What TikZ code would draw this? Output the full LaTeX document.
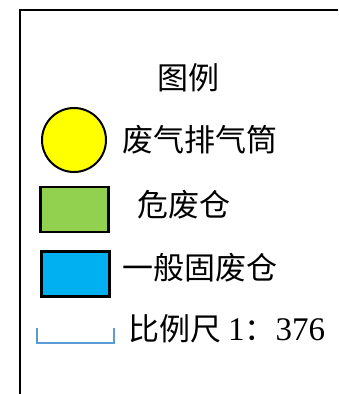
\documentclass[tikz,border=0pt]{standalone}
\usepackage{fontspec}
\setmainfont{Liberation Serif}
\newfontfamily\cjk{Noto Sans CJK SC}

\definecolor{Stack}{HTML}{FFFF00}
\definecolor{Hazard}{HTML}{92D050}
\definecolor{Solid}{HTML}{00B0F0}
\definecolor{Ruler}{HTML}{5B9BD5}

\begin{document}
\begin{tikzpicture}[x=1pt, y=-1pt,
  label text/.style={anchor=west, inner sep=0, font=\fontsize{31}{31}\selectfont\cjk},
  swatch/.style={draw, line width=2.5, inner sep=0, minimum width=68, minimum height=45}]

  \useasboundingbox (0,0) rectangle (338,394);

  %%%%%%%%%%%%%%%% FRAME %%%%%%%%%%%%%%%%%%%%%%
  \coordinate (TopRight) at (338,10);
  \coordinate (Corner) at (20,10);
  \coordinate (BottomLeft) at (20,394);
  \draw [line width=2.5] (TopRight) -- (Corner) -- (BottomLeft);

  % Title
  \node [inner sep=0, font=\fontsize{31}{31}\selectfont\cjk] (title) at (188,78) {图例};

  %%%%%%%%%%%%%% SYMBOLS %%%%%%%%%%%%%%
  \node [circle, draw, line width=2, fill=Stack, inner sep=0, minimum size=64] (stack) at (74,140) {};
  \node [swatch, fill=Hazard] (hazard) at (74.5,209.5) {};
  \node [swatch, fill=Solid] (solid) at (75.5,274) {};

  % Scale bar
  \coordinate (r0) at (37,328);
  \coordinate (r1) at (37,342.5);
  \coordinate (r2) at (114,342.5);
  \coordinate (r3) at (114,328);
  \draw [line width=2, color=Ruler] (r0) -- (r1) -- (r2) -- (r3);

  %%%%%%%%%%%%%% LABELS %%%%%%%%%%%%%%
  \node [label text] (stacklabel) at (122,140) {废气排气筒};
  \node [label text] (hazardlabel) at (137,205) {危废仓};
  \node [label text] (solidlabel) at (122,268) {一般固废仓};
  \node [label text] (rulerlabel) at (128,329) {比例尺\ {\rmfamily\fontsize{33}{33}\selectfont 1}：{\rmfamily\fontsize{33}{33}\selectfont 376}};

\end{tikzpicture}
\end{document}
